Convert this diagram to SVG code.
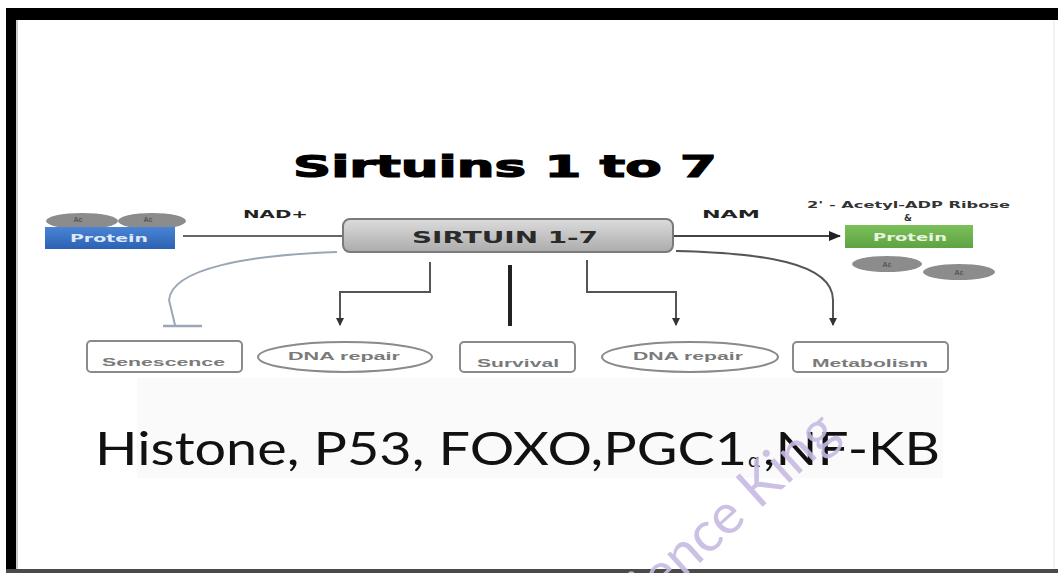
<svg xmlns="http://www.w3.org/2000/svg" width="1058" height="573" viewBox="0 0 1058 573">
<defs>
<style>
.lbl{font-family:"DejaVu Sans","Liberation Sans",sans-serif;font-weight:bold;}
.box{fill:#fff;stroke:#8a8a8a;stroke-width:2;}
.btxt{font-family:"Liberation Sans",sans-serif;font-size:11px;fill:#7a7a7a;font-weight:bold;}
.conn{fill:none;stroke:#555;stroke-width:2;}
.ac{fill:#8c8c8c;}
.actxt{font-family:"Liberation Sans",sans-serif;font-size:7px;font-weight:bold;fill:#555;text-anchor:middle;}
</style>
<linearGradient id="gS" x1="0" y1="0" x2="0" y2="1">
<stop offset="0" stop-color="#dcdcdc"/><stop offset="0.5" stop-color="#c4c4c4"/><stop offset="1" stop-color="#acacac"/>
</linearGradient>
<linearGradient id="gB" x1="0" y1="0" x2="0" y2="1">
<stop offset="0" stop-color="#4a84d4"/><stop offset="1" stop-color="#2c62b4"/>
</linearGradient>
<linearGradient id="gG" x1="0" y1="0" x2="0" y2="1">
<stop offset="0" stop-color="#7cc05a"/><stop offset="1" stop-color="#5ea342"/>
</linearGradient>
<marker id="arr" markerWidth="8" markerHeight="8" refX="7" refY="4" orient="auto" markerUnits="userSpaceOnUse">
<path d="M0,0 L8,4 L0,8 Z" fill="#333"/>
</marker>
<marker id="arrBig" markerWidth="12" markerHeight="10" refX="11" refY="5" orient="auto" markerUnits="userSpaceOnUse">
<path d="M0,0 L12,5 L0,10 Z" fill="#222"/>
</marker>
</defs>
<rect width="1058" height="573" fill="#fff"/>
<!-- frame -->
<rect x="6" y="8" width="1052" height="12" fill="#000"/>
<rect x="6" y="8" width="10" height="565" fill="#000"/>
<rect x="16" y="20" width="2" height="549" fill="#ccc"/>
<rect x="6" y="569" width="1052" height="4" fill="#4a4a4a"/>
<line x1="1054" y1="20" x2="1054" y2="569" stroke="#e6e6e6" stroke-width="1"/>
<rect x="137" y="378" width="806" height="100" fill="#fafafa"/>

<text class="lbl" x="293" y="177" font-size="30" textLength="424" lengthAdjust="spacingAndGlyphs" stroke="#000" stroke-width="1.2">Sirtuins 1 to 7</text>

<g id="connectors">
<line x1="183" y1="236" x2="343" y2="236" stroke="#666" stroke-width="2"/>
<line x1="673" y1="236" x2="840" y2="236" stroke="#444" stroke-width="2" marker-end="url(#arrBig)"/>
<path d="M337,252 C250,255 172,268 169,300 L175,325" fill="none" stroke="#9aa6b6" stroke-width="2"/>
<line x1="163" y1="326" x2="202" y2="326" stroke="#9aa6b6" stroke-width="2.5"/>
<path class="conn" d="M430,262 L430,292 L340,292 L340,325" marker-end="url(#arr)"/>
<line x1="510" y1="265" x2="510" y2="326" stroke="#222" stroke-width="4"/>
<path class="conn" d="M587,260 L587,292 L676,292 L676,325" marker-end="url(#arr)"/>
<path class="conn" d="M676,251 C760,253 833,262 833,300 L833,325" marker-end="url(#arr)"/>
</g>

<g id="protein-left">
<ellipse class="ac" cx="82" cy="221" rx="36" ry="8"/>
<ellipse class="ac" cx="152" cy="221" rx="34" ry="8"/>
<text class="actxt" x="78" y="222">Ac</text>
<text class="actxt" x="148" y="222">Ac</text>
<rect x="45" y="227" width="130" height="22" fill="url(#gB)"/>
<text class="lbl" x="70" y="242" font-size="11" fill="#dfe8f8" textLength="78" lengthAdjust="spacingAndGlyphs">Protein</text>
</g>

<g id="nad">
<text class="lbl" x="243" y="218" font-size="11" fill="#222" textLength="65" lengthAdjust="spacingAndGlyphs">NAD+</text>
</g>

<g id="sirtuin">
<rect x="343" y="219" width="330" height="33" rx="7" fill="url(#gS)" stroke="#7a7a7a" stroke-width="2"/>
<text class="lbl" x="412" y="243" font-size="15" fill="#2a2a2a" textLength="186" lengthAdjust="spacingAndGlyphs">SIRTUIN 1-7</text>
</g>

<g id="nam">
<text class="lbl" x="702" y="218" font-size="11" fill="#222" textLength="58" lengthAdjust="spacingAndGlyphs">NAM</text>
</g>

<g id="protein-right">
<text class="lbl" x="807" y="208" font-size="9" fill="#333" textLength="203" lengthAdjust="spacingAndGlyphs">2'  -  Acetyl-ADP Ribose</text>
<text class="lbl" x="908" y="221" font-size="9" fill="#333" text-anchor="middle">&amp;</text>
<rect x="845" y="225" width="128" height="23" fill="url(#gG)"/>
<text class="lbl" x="873" y="241" font-size="11" fill="#e8f4e0" textLength="74" lengthAdjust="spacingAndGlyphs">Protein</text>
<ellipse class="ac" cx="887" cy="264" rx="35" ry="8"/>
<ellipse class="ac" cx="959" cy="272" rx="36" ry="8"/>
<text class="actxt" x="887" y="267">Ac</text>
<text class="actxt" x="959" y="275">Ac</text>
</g>

<g id="senescence">
<rect class="box" x="87" y="341" width="155" height="31" rx="4"/>
<text class="btxt" x="102" y="366" textLength="123" lengthAdjust="spacingAndGlyphs">Senescence</text>
</g>
<g id="dna-repair-1">
<ellipse class="box" cx="345" cy="357" rx="87" ry="15"/>
<text class="btxt" x="288" y="360" textLength="112" lengthAdjust="spacingAndGlyphs">DNA repair</text>
</g>
<g id="survival">
<rect class="box" x="460" y="342" width="115" height="30" rx="4"/>
<text class="btxt" x="477" y="367" textLength="82" lengthAdjust="spacingAndGlyphs">Survival</text>
</g>
<g id="dna-repair-2">
<ellipse class="box" cx="690" cy="357" rx="88" ry="15"/>
<text class="btxt" x="633" y="360" textLength="110" lengthAdjust="spacingAndGlyphs">DNA repair</text>
</g>
<g id="metabolism">
<rect class="box" x="793" y="342" width="155" height="30" rx="4"/>
<text class="btxt" x="812" y="367" textLength="116" lengthAdjust="spacingAndGlyphs">Metabolism</text>
</g>

<g id="targets">
<text font-family="Lato,'Open Sans',sans-serif" font-size="46" fill="#111" x="95" y="465" textLength="652" lengthAdjust="spacingAndGlyphs">Histone, P53, FOXO,PGC1</text>
<text font-family="Lato,'Open Sans',sans-serif" font-size="20" fill="#111" x="748" y="467">α</text>
<text font-family="Lato,'Open Sans',sans-serif" font-size="46" fill="#111" x="763" y="465" textLength="177" lengthAdjust="spacingAndGlyphs">,NF-KB</text>
</g>

<text font-family="Lato,'Open Sans',sans-serif" font-size="56" fill="#c6b9e2" fill-opacity="0.9" transform="translate(609,645) rotate(-42)">Science King</text>
</svg>
